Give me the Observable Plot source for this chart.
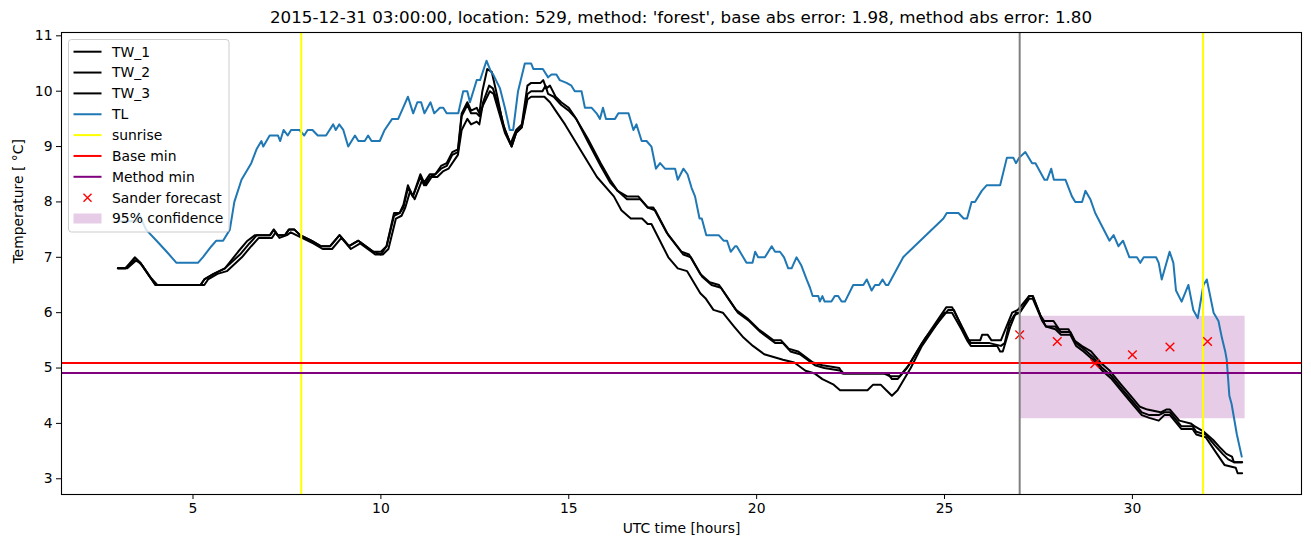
<!DOCTYPE html>
<html>
<head>
<meta charset="utf-8">
<script src="https://cdn.jsdelivr.net/npm/d3@7"></script>
<script src="https://cdn.jsdelivr.net/npm/@observablehq/plot@0.6"></script>
<style>
  body { margin: 0; background: white; font-family: "DejaVu Sans", sans-serif; }
  #title { height: 22px; width: 1240px; padding-left: 61px; text-align: center; font-size: 16.7px; line-height: 20px; padding-top: 0px; color: #000; white-space: nowrap; }
  #title span { position: relative; top: 7px; }
</style>
</head>
<body>
<div id="title"><span>2015-12-31 03:00:00, location: 529, method: 'forest', base abs error: 1.98, method abs error: 1.80</span></div>
<div id="chart"></div>
<script>
// ---------- data ----------
const xTicks = [5, 10, 15, 20, 25, 30];
const yTicks = [3, 4, 5, 6, 7, 8, 9, 10, 11];

const tw1 = [[3.0,6.8],[3.2,6.8],[3.45,7.0],[3.6,6.9],[3.8,6.7],[4.0,6.5],[5.2,6.5],[5.3,6.6],[5.55,6.7],[5.85,6.8],[6.2,7.1],[6.45,7.3],[6.65,7.4],[7.05,7.4],[7.15,7.5],[7.25,7.4],[7.45,7.4],[7.55,7.5],[7.7,7.5],[7.85,7.4],[8.15,7.3],[8.4,7.2],[8.65,7.2],[8.9,7.4],[9.15,7.2],[9.4,7.3],[9.6,7.2],[9.8,7.1],[10.0,7.1],[10.15,7.2],[10.35,7.8],[10.5,7.8],[10.6,7.95],[10.72,8.3],[10.85,8.1],[11.05,8.5],[11.15,8.35],[11.3,8.5],[11.45,8.5],[11.6,8.65],[11.75,8.7],[11.9,8.9],[12.05,8.95],[12.15,9.6],[12.3,9.8],[12.4,9.65],[12.55,9.7],[12.62,9.6],[12.7,10.0],[12.83,10.4],[12.95,10.35],[13.1,9.9],[13.25,9.4],[13.45,9.05],[13.6,9.3],[13.75,9.4],[13.9,10.1],[14.0,10.15],[14.25,10.15],[14.32,10.2],[14.4,10.05],[14.5,10.1],[14.65,9.9],[14.8,9.8],[15.0,9.7],[15.15,9.55],[15.5,9.15],[15.85,8.7],[16.1,8.4],[16.3,8.2],[16.55,8.1],[16.85,8.1],[17.1,7.9],[17.25,7.9],[17.6,7.45],[18.0,7.1],[18.2,7.05],[18.5,6.7],[18.75,6.55],[19.0,6.5],[19.2,6.3],[19.45,6.05],[19.75,5.9],[20.05,5.7],[20.45,5.5],[20.65,5.5],[20.85,5.35],[21.1,5.3],[21.5,5.1],[21.75,5.05],[22.2,5.0],[22.28,4.9],[23.5,4.9],[23.6,4.8],[23.75,4.8],[24.0,5.0],[24.4,5.45],[25.05,6.1],[25.2,6.1],[25.5,5.7],[25.65,5.5],[25.95,5.5],[26.0,5.6],[26.15,5.6],[26.25,5.5],[26.5,5.5],[26.68,5.8],[26.8,6.0],[26.95,6.05],[27.25,6.3],[27.35,6.3],[27.55,5.95],[27.65,5.85],[27.9,5.85],[28.05,5.7],[28.3,5.7],[28.45,5.5],[28.65,5.4],[28.9,5.3],[29.15,5.1],[29.4,4.95],[29.7,4.7],[29.95,4.5],[30.2,4.3],[30.4,4.25],[30.75,4.2],[30.9,4.25],[31.0,4.25],[31.25,4.05],[31.55,4.0],[31.65,3.95],[31.9,3.85],[32.15,3.7],[32.35,3.55],[32.5,3.45],[32.65,3.4],[32.7,3.3],[32.92,3.3]];

const tw2 = [[3.0,6.8],[3.25,6.8],[3.5,6.95],[3.65,6.85],[3.85,6.65],[4.05,6.5],[5.3,6.5],[5.4,6.6],[5.65,6.7],[5.9,6.75],[6.3,7.0],[6.55,7.2],[6.75,7.35],[7.1,7.35],[7.2,7.45],[7.3,7.35],[7.5,7.4],[7.6,7.45],[7.75,7.4],[8.2,7.25],[8.45,7.15],[8.7,7.15],[8.95,7.35],[9.2,7.15],[9.45,7.25],[9.65,7.15],[9.85,7.05],[10.05,7.05],[10.2,7.15],[10.4,7.7],[10.55,7.75],[10.65,7.9],[10.78,8.2],[10.9,8.05],[11.1,8.4],[11.2,8.3],[11.35,8.45],[11.5,8.45],[11.65,8.55],[11.8,8.6],[11.95,8.75],[12.05,8.85],[12.15,9.3],[12.3,9.5],[12.4,9.4],[12.55,9.45],[12.62,9.4],[12.72,9.8],[12.88,10.1],[12.98,10.05],[13.15,9.7],[13.3,9.3],[13.48,9.0],[13.6,9.25],[13.75,9.35],[13.9,9.95],[14.0,10.0],[14.3,10.0],[14.38,10.1],[14.45,9.95],[14.6,9.9],[14.8,9.75],[15.0,9.65],[15.2,9.5],[15.5,9.1],[15.85,8.65],[16.1,8.35],[16.3,8.2],[16.55,8.05],[16.9,8.05],[17.1,7.9],[17.3,7.85],[17.65,7.4],[18.05,7.05],[18.25,7.0],[18.55,6.65],[18.8,6.5],[19.05,6.45],[19.25,6.25],[19.5,6.0],[19.8,5.85],[20.1,5.65],[20.5,5.45],[20.7,5.45],[20.9,5.3],[21.15,5.25],[21.55,5.05],[21.8,5.0],[22.25,4.95],[22.32,4.9],[23.4,4.9],[23.55,4.85],[23.8,4.85],[24.05,5.05],[24.5,5.55],[25.1,6.05],[25.25,6.05],[25.55,5.6],[25.7,5.45],[26.2,5.45],[26.5,5.4],[26.6,5.45],[26.72,5.8],[26.85,5.95],[27.0,6.0],[27.25,6.3],[27.35,6.3],[27.58,5.9],[27.7,5.75],[27.95,5.75],[28.1,5.65],[28.35,5.65],[28.5,5.45],[28.7,5.35],[28.95,5.2],[29.2,5.0],[29.45,4.85],[29.75,4.6],[30.0,4.4],[30.25,4.2],[30.45,4.15],[30.7,4.15],[30.85,4.2],[31.0,4.2],[31.3,3.95],[31.6,3.95],[31.7,3.85],[31.95,3.8],[32.2,3.6],[32.4,3.45],[32.55,3.35],[32.7,3.3],[32.92,3.3]];

const tw3 = [[3.0,6.8],[3.2,6.8],[3.45,6.95],[3.6,6.9],[3.8,6.7],[4.0,6.5],[5.2,6.5],[5.3,6.6],[5.55,6.7],[5.85,6.8],[6.25,7.05],[6.5,7.25],[6.7,7.4],[7.05,7.4],[7.15,7.5],[7.25,7.4],[7.45,7.4],[7.55,7.5],[7.7,7.5],[7.85,7.4],[8.15,7.3],[8.4,7.2],[8.65,7.2],[8.9,7.4],[9.15,7.2],[9.4,7.3],[9.6,7.2],[9.8,7.1],[10.0,7.05],[10.15,7.2],[10.35,7.75],[10.5,7.8],[10.6,7.9],[10.72,8.25],[10.85,8.1],[11.05,8.45],[11.15,8.3],[11.3,8.45],[11.45,8.5],[11.6,8.6],[11.75,8.65],[11.9,8.85],[12.05,8.9],[12.15,9.55],[12.3,9.75],[12.4,9.6],[12.55,9.6],[12.62,9.55],[12.72,9.75],[12.9,10.0],[13.0,9.95],[13.15,9.6],[13.3,9.25],[13.48,9.0],[13.6,9.25],[13.75,9.35],[13.9,9.85],[14.0,9.9],[14.35,9.9],[14.5,9.8],[14.65,9.65],[14.9,9.4],[15.3,8.95],[15.75,8.45],[16.2,8.1],[16.4,7.85],[16.65,7.7],[16.95,7.7],[17.1,7.6],[17.2,7.6],[17.65,7.0],[17.9,6.8],[18.15,6.75],[18.5,6.35],[18.65,6.25],[18.85,6.05],[19.1,6.0],[19.4,5.75],[19.65,5.55],[19.9,5.4],[20.2,5.25],[20.45,5.2],[20.7,5.15],[21.0,5.1],[21.3,4.95],[21.55,4.9],[21.75,4.8],[22.05,4.7],[22.22,4.6],[22.95,4.6],[23.1,4.7],[23.3,4.7],[23.45,4.6],[23.6,4.5],[23.75,4.6],[24.1,5.0],[24.4,5.4],[25.0,6.0],[25.2,6.0],[25.45,5.7],[25.6,5.5],[25.7,5.4],[26.4,5.4],[26.48,5.3],[26.55,5.3],[26.75,5.75],[26.9,6.0],[27.0,6.0],[27.25,6.25],[27.35,6.25],[27.6,5.85],[27.7,5.75],[27.95,5.7],[28.1,5.6],[28.35,5.6],[28.5,5.4],[28.7,5.3],[28.95,5.15],[29.2,4.95],[29.45,4.8],[29.75,4.55],[30.0,4.35],[30.25,4.15],[30.45,4.1],[30.7,4.05],[30.85,4.15],[31.0,4.15],[31.3,3.9],[31.6,3.9],[31.7,3.8],[31.95,3.75],[32.2,3.5],[32.45,3.25],[32.75,3.2],[32.8,3.1],[32.92,3.1]];

const tl = [[3.0,7.65],[3.5,7.65],[3.55,7.8],[3.75,7.5],[4.03,7.3],[4.3,7.1],[4.56,6.9],[5.13,6.9],[5.26,7.0],[5.49,7.2],[5.62,7.3],[5.8,7.3],[5.98,7.5],[6.1,8.0],[6.29,8.4],[6.55,8.7],[6.69,8.95],[6.82,9.1],[6.87,9.0],[7.04,9.2],[7.26,9.2],[7.32,9.1],[7.41,9.3],[7.52,9.2],[7.61,9.3],[7.83,9.3],[7.96,9.2],[8.05,9.3],[8.18,9.3],[8.32,9.2],[8.54,9.2],[8.73,9.4],[8.8,9.3],[8.89,9.4],[9.0,9.3],[9.13,9.0],[9.31,9.2],[9.4,9.1],[9.57,9.1],[9.66,9.2],[9.75,9.1],[9.97,9.1],[10.1,9.3],[10.3,9.5],[10.46,9.5],[10.59,9.7],[10.72,9.9],[10.86,9.6],[10.97,9.8],[11.07,9.8],[11.16,9.6],[11.32,9.8],[11.42,9.6],[11.57,9.7],[11.66,9.7],[11.75,9.6],[12.06,9.6],[12.19,10.0],[12.3,10.0],[12.37,9.8],[12.55,10.2],[12.64,10.2],[12.81,10.55],[12.93,10.35],[12.99,10.3],[13.17,10.05],[13.3,9.7],[13.43,9.3],[13.52,9.3],[13.65,10.0],[13.83,10.5],[14.0,10.5],[14.06,10.4],[14.31,10.4],[14.45,10.25],[14.54,10.3],[14.67,10.3],[14.76,10.2],[14.94,10.15],[15.07,10.1],[15.16,10.0],[15.34,10.0],[15.43,9.7],[15.61,9.7],[15.74,9.6],[15.83,9.5],[15.91,9.7],[15.99,9.5],[16.23,9.5],[16.32,9.6],[16.59,9.6],[16.72,9.3],[16.8,9.4],[16.94,9.1],[17.07,9.1],[17.2,9.0],[17.32,8.6],[17.43,8.7],[17.56,8.6],[17.83,8.6],[17.9,8.4],[18.05,8.6],[18.16,8.5],[18.27,8.25],[18.36,8.1],[18.48,7.7],[18.54,7.7],[18.66,7.4],[18.99,7.4],[19.12,7.3],[19.21,7.3],[19.31,7.1],[19.43,7.2],[19.47,7.2],[19.73,6.9],[19.89,6.9],[19.96,7.1],[20.04,7.0],[20.22,7.0],[20.4,7.2],[20.49,7.1],[20.62,7.1],[20.73,7.0],[20.84,6.8],[20.93,6.8],[21.06,7.0],[21.19,6.85],[21.33,6.6],[21.42,6.45],[21.49,6.3],[21.64,6.3],[21.68,6.2],[21.75,6.3],[21.81,6.2],[21.99,6.2],[22.08,6.3],[22.17,6.3],[22.26,6.2],[22.35,6.2],[22.57,6.5],[22.84,6.5],[22.93,6.6],[23.06,6.4],[23.15,6.5],[23.26,6.5],[23.35,6.6],[23.44,6.5],[23.5,6.5],[23.9,7.0],[24.0,7.07],[24.97,7.7],[25.06,7.8],[25.37,7.8],[25.51,7.7],[25.6,7.7],[25.72,8.0],[25.81,8.0],[25.99,8.2],[26.12,8.3],[26.48,8.3],[26.66,8.8],[26.83,8.8],[26.9,8.7],[26.99,8.8],[27.15,8.9],[27.33,8.7],[27.42,8.7],[27.66,8.4],[27.73,8.4],[27.84,8.6],[27.91,8.4],[28.22,8.4],[28.39,8.1],[28.48,8.0],[28.66,8.0],[28.75,8.2],[28.88,8.05],[29.01,7.8],[29.39,7.3],[29.5,7.4],[29.63,7.2],[29.75,7.3],[29.92,7.0],[30.12,7.0],[30.21,6.9],[30.3,7.0],[30.63,7.0],[30.7,6.9],[30.78,6.6],[30.99,7.1],[31.09,6.9],[31.16,6.4],[31.31,6.2],[31.49,6.5],[31.62,6.05],[31.74,5.9],[31.89,6.5],[31.98,6.6],[32.16,6.0],[32.29,5.85],[32.38,5.55],[32.47,5.3],[32.51,5.15],[32.58,4.5],[32.64,4.35],[32.78,3.8],[32.91,3.4]];

const sunriseHours = [7.88, 31.88];
const forecastTime = [27];
const baseMin = [5.09];
const methodMin = [4.91];
const sanderHours = [27, 28, 29, 30, 31, 32];
const sanderTemp = [5.6, 5.48, 5.08, 5.24, 5.38, 5.48];
const confHours = [27, 33];
const confLow = [4.085, 4.085];
const confHigh = [5.935, 5.935];

const legendLabels = ["TW_1", "TW_2", "TW_3", "TL", "sunrise", "Base min", "Method min", "Sander forecast", "95% confidence"];

// ---------- build ----------
const toObj = arr => arr.map(([h, t]) => ({h, t}));
const sander = sanderHours.map((h, i) => ({h, t: sanderTemp[i]}));
const band = confHours.map((h, i) => ({h, lo: confLow[i], hi: confHigh[i]}));

const chart = Plot.plot({
  width: 1311,
  height: 525,
  marginTop: 10,
  marginLeft: 61,
  marginRight: 10,
  marginBottom: 53,
  style: {fontFamily: "DejaVu Sans, sans-serif", fontSize: "13.9px", background: "white", color: "black", overflow: "visible"},
  x: {domain: [1.5, 34.5], ticks: xTicks, tickSize: 5, tickPadding: 4, label: null},
  y: {domain: [2.716, 11.06], ticks: yTicks, tickSize: 5, tickPadding: 4, label: null},
  marks: [
    Plot.areaY(band, {x: "h", y1: "lo", y2: "hi", fill: "purple", fillOpacity: 0.2}),
    Plot.line(toObj(tw1), {x: "h", y: "t", stroke: "black", strokeWidth: 2}),
    Plot.line(toObj(tw2), {x: "h", y: "t", stroke: "black", strokeWidth: 2}),
    Plot.line(toObj(tw3), {x: "h", y: "t", stroke: "black", strokeWidth: 2}),
    Plot.line(toObj(tl), {x: "h", y: "t", stroke: "#1f77b4", strokeWidth: 2}),
    Plot.ruleX(sunriseHours, {stroke: "yellow", strokeWidth: 2}),
    Plot.ruleY(baseMin, {stroke: "red", strokeWidth: 2}),
    Plot.ruleY(methodMin, {stroke: "purple", strokeWidth: 2}),
    Plot.dot(sander, {x: "h", y: "t", symbol: "times", stroke: "red", r: 4, strokeWidth: 1.4}),
    Plot.ruleX(forecastTime, {stroke: "grey", strokeWidth: 2}),
    Plot.frame({stroke: "black", strokeWidth: 1.1}),
    Plot.text(["UTC time [hours]"], {frameAnchor: "bottom", dy: 38, fontSize: 13.9, fill: "black"}),
    Plot.text(["Temperature [ °C]"], {frameAnchor: "left", dx: -43, rotate: -90, fontSize: 13.9, fill: "black"})
  ]
});
document.getElementById("chart").appendChild(chart);

// ---------- legend ----------
const svg = d3.select(chart);
const lg = svg.append("g").attr("transform", "translate(0,-22)").attr("text-anchor", "start");
lg.append("rect").attr("x", 68.5).attr("y", 39.5).attr("width", 160.5).attr("height", 192.5)
  .attr("rx", 3).attr("fill", "white").attr("fill-opacity", 0.8).attr("stroke", "#cccccc").attr("stroke-width", 1);
const kinds = [
  {type: "line", color: "black"},
  {type: "line", color: "black"},
  {type: "line", color: "black"},
  {type: "line", color: "#1f77b4"},
  {type: "line", color: "yellow"},
  {type: "line", color: "red"},
  {type: "line", color: "purple"},
  {type: "x", color: "red"},
  {type: "patch", color: "purple"}
];
legendLabels.forEach((label, i) => {
  const cy = 51.7 + i * 20.85;
  const k = kinds[i];
  if (k.type === "line") {
    lg.append("line").attr("x1", 73.5).attr("x2", 101.5).attr("y1", cy).attr("y2", cy)
      .attr("stroke", k.color).attr("stroke-width", 2);
  } else if (k.type === "x") {
    const cx = 87.5, s = 4;
    lg.append("path").attr("d", `M${cx-s},${cy-s}L${cx+s},${cy+s}M${cx-s},${cy+s}L${cx+s},${cy-s}`)
      .attr("stroke", k.color).attr("stroke-width", 1.4).attr("fill", "none");
  } else {
    lg.append("rect").attr("x", 73.5).attr("y", cy - 5).attr("width", 28).attr("height", 10)
      .attr("fill", k.color).attr("fill-opacity", 0.2);
  }
  lg.append("text").attr("x", 112).attr("y", cy).attr("dy", "0.35em").attr("text-anchor", "start")
    .attr("font-family", "DejaVu Sans, sans-serif").attr("font-size", "13.9px").attr("fill", "black").text(label);
});
</script>
</body>
</html>
